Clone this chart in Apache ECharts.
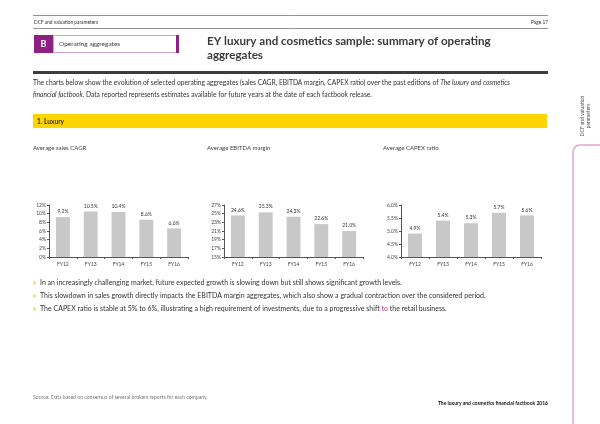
<!DOCTYPE html>
<html>
<head>
<meta charset="utf-8">
<script src="https://cdn.jsdelivr.net/npm/echarts@6/dist/echarts.min.js"></script>
<style>
html,body{margin:0;padding:0;background:#fff;}
#c{width:600px;height:424px;}
</style>
</head>
<body>
<div id="c"></div>
<script>
// ---- data ----
const years = ['FY12', 'FY13', 'FY14', 'FY15', 'FY16'];
const salesCagr = [9.2, 10.5, 10.4, 8.6, 6.6];
const ebitdaMargin = [24.6, 25.3, 24.3, 22.6, 21.0];
const capexRatio = [4.9, 5.4, 5.3, 5.7, 5.6];
const chartTitles = ['Average sales CAGR', 'Average EBITDA margin', 'Average CAPEX ratio'];
const axisMin = [0, 15, 4.0];
const axisMax = [12, 27, 6.0];
const axisStep = [2, 2, 0.5];
const axisDecimals = [0, 0, 1];

const FONT = 'Lato, "Open Sans", sans-serif';
const chart = echarts.init(document.getElementById('c'), null, {renderer: 'canvas'});

const gridPos = [
  {left: 49, width: 139},
  {left: 224, width: 139},
  {left: 401, width: 140}
];
const seriesData = [salesCagr, ebitdaMargin, capexRatio];

const grids = [], xAxes = [], yAxes = [], series = [];
for (let i = 0; i < 3; i++) {
  grids.push({left: gridPos[i].left, width: gridPos[i].width, top: 205, height: 52, containLabel: false});
  xAxes.push({
    type: 'category', gridIndex: i, data: years,
    axisLine: {lineStyle: {color: '#555', width: 1.2}},
    axisTick: {show: true, length: 2, lineStyle: {color: '#555'}},
    axisLabel: {fontSize: 5, color: '#444', margin: 5, fontFamily: FONT}
  });
  const d = axisDecimals[i];
  yAxes.push({
    type: 'value', gridIndex: i, min: axisMin[i], max: axisMax[i], interval: axisStep[i],
    axisLine: {show: true, lineStyle: {color: '#555', width: 1}},
    axisTick: {show: true, length: 2, lineStyle: {color: '#555'}},
    splitLine: {show: false},
    axisLabel: {fontSize: 5, color: '#444', margin: 3, fontFamily: FONT,
      formatter: v => v.toFixed(d) + '%'}
  });
  series.push({
    type: 'bar', xAxisIndex: i, yAxisIndex: i, data: seriesData[i],
    barWidth: '50%',
    itemStyle: {color: '#c8c8c8'},
    label: {show: true, position: 'top', fontSize: 5, color: '#333', distance: 3, fontFamily: FONT,
      formatter: p => p.value.toFixed(1) + '%'}
  });
}

const txt = (x, y, text, opts) => Object.assign({
  type: 'text', x: x, y: y,
  style: Object.assign({text: text, fill: '#333', font: '6.6px ' + FONT, textVerticalAlign: 'middle'}, opts || {})
});

const graphics = [
  // header lines
  {type: 'line', shape: {x1: 33, y1: 15.5, x2: 548, y2: 15.5}, style: {stroke: '#777', lineWidth: 0.8}},
  {type: 'line', shape: {x1: 33, y1: 28.5, x2: 548, y2: 28.5}, style: {stroke: '#777', lineWidth: 0.8}},
  txt(34, 22, 'DCF and valuation parameters', {font: '4.8px ' + FONT}),
  txt(548, 22, 'Page 17', {font: '4.8px ' + FONT, textAlign: 'right'}),
  // B box
  {type: 'rect', shape: {x: 34, y: 35, width: 19, height: 18}, style: {fill: '#8e1f83'}},
  txt(43.5, 44, 'B', {fill: '#fff', font: 'bold 9px ' + FONT, textAlign: 'center'}),
  {type: 'rect', shape: {x: 53.5, y: 35.5, width: 123, height: 17}, style: {fill: '#fff', stroke: '#cf9ccb', lineWidth: 1}},
  {type: 'rect', shape: {x: 176, y: 35, width: 3, height: 18}, style: {fill: '#8e1f83'}},
  txt(59, 44, 'Operating aggregates', {font: '6.5px ' + FONT, fill: '#444'}),
  // title
  txt(207, 41, 'EY luxury and cosmetics sample: summary of operating', {font: 'bold 11.6px ' + FONT, fill: '#3a3a3a'}),
  txt(207, 55, 'aggregates', {font: 'bold 11.6px ' + FONT, fill: '#3a3a3a'}),
  // thick bar
  {type: 'rect', shape: {x: 33, y: 71, width: 515, height: 3}, style: {fill: '#3c3c3c'}},
  // paragraph
  {type: 'text', x: 33, y: 83, style: {
    text: '{n|The charts below show the evolution of selected operating aggregates (sales CAGR, EBITDA margin, CAPEX ratio) over the past editions of }{i|The luxury and cosmetics}',
    textVerticalAlign: 'middle',
    rich: {n: {font: '6.7px ' + FONT, fill: '#333'}, i: {font: 'italic 6.7px ' + FONT, fill: '#333'}}}},
  {type: 'text', x: 33, y: 94.5, style: {
    text: '{i|financial factbook}{n|. Data reported represents estimates available for future years at the date of each factbook release.}',
    textVerticalAlign: 'middle',
    rich: {n: {font: '6.7px ' + FONT, fill: '#333'}, i: {font: 'italic 6.7px ' + FONT, fill: '#333'}}}},
  // yellow band
  {type: 'rect', shape: {x: 33, y: 114, width: 514, height: 14}, style: {fill: '#ffd500'}},
  txt(37, 121.5, '1. Luxury', {font: 'bold 6.6px ' + FONT, fill: '#333'}),
  // right side rotated label
  {type: 'text', x: 585, y: 116, rotation: Math.PI / 2,
    style: {text: 'DCF and valuation\nparameters', font: '5px ' + FONT, fill: '#555',
      textAlign: 'center', textVerticalAlign: 'middle', lineHeight: 6}},
  // pink line with rounded corner
  {type: 'polyline', shape: {points: [[573, 424], [573, 152]]}, style: {stroke: '#e6a2cf', lineWidth: 1.5, fill: null}},
  {type: 'arc', shape: {cx: 580, cy: 152, r: 7, startAngle: Math.PI, endAngle: Math.PI * 1.5}, style: {stroke: '#e6a2cf', lineWidth: 1.5, fill: null}},
  {type: 'line', shape: {x1: 580, y1: 145, x2: 600, y2: 145}, style: {stroke: '#e6a2cf', lineWidth: 1.5}},
  // chart titles
  txt(33, 148.5, chartTitles[0], {font: '6px ' + FONT, fill: '#444'}),
  txt(207, 148.5, chartTitles[1], {font: '6px ' + FONT, fill: '#444'}),
  txt(383, 148.5, chartTitles[2], {font: '6px ' + FONT, fill: '#444'}),
  // bullets
  {type: 'rect', shape: {x: 33, y: 281.5, width: 3, height: 3}, style: {fill: '#ffe066'}},
  {type: 'rect', shape: {x: 33, y: 294.5, width: 3, height: 3}, style: {fill: '#ffe066'}},
  {type: 'rect', shape: {x: 33, y: 307.5, width: 3, height: 3}, style: {fill: '#ffe066'}},
  txt(40, 283, 'In an increasingly challenging market, future expected growth is slowing down but still shows significant growth levels.', {font: '7px ' + FONT, fill: '#333'}),
  txt(40, 296, 'This slowdown in sales growth directly impacts the EBITDA margin aggregates, which also show a gradual contraction over the considered period.', {font: '7px ' + FONT, fill: '#333'}),
  {type: 'text', x: 40, y: 309, style: {
    text: '{n|The CAPEX ratio is stable at 5% to 6%, illustrating a high requirement of investments, due to a progressive shift }{p|to}{n| the retail business.}',
    textVerticalAlign: 'middle',
    rich: {n: {font: '7px ' + FONT, fill: '#333'}, p: {font: '7px ' + FONT, fill: '#d0338f'}}}},
  // source and footer
  txt(33, 397, 'Source: Data based on consensus of several brokers reports for each company.', {font: '5.1px ' + FONT, fill: '#777'}),
  txt(548, 403, 'The luxury and cosmetics financial factbook 2016', {font: 'bold 5px ' + FONT, fill: '#111', textAlign: 'right'})
];

chart.setOption({
  animation: false,
  grid: grids,
  xAxis: xAxes,
  yAxis: yAxes,
  series: series,
  graphic: {elements: graphics}
});
</script>
</body>
</html>
